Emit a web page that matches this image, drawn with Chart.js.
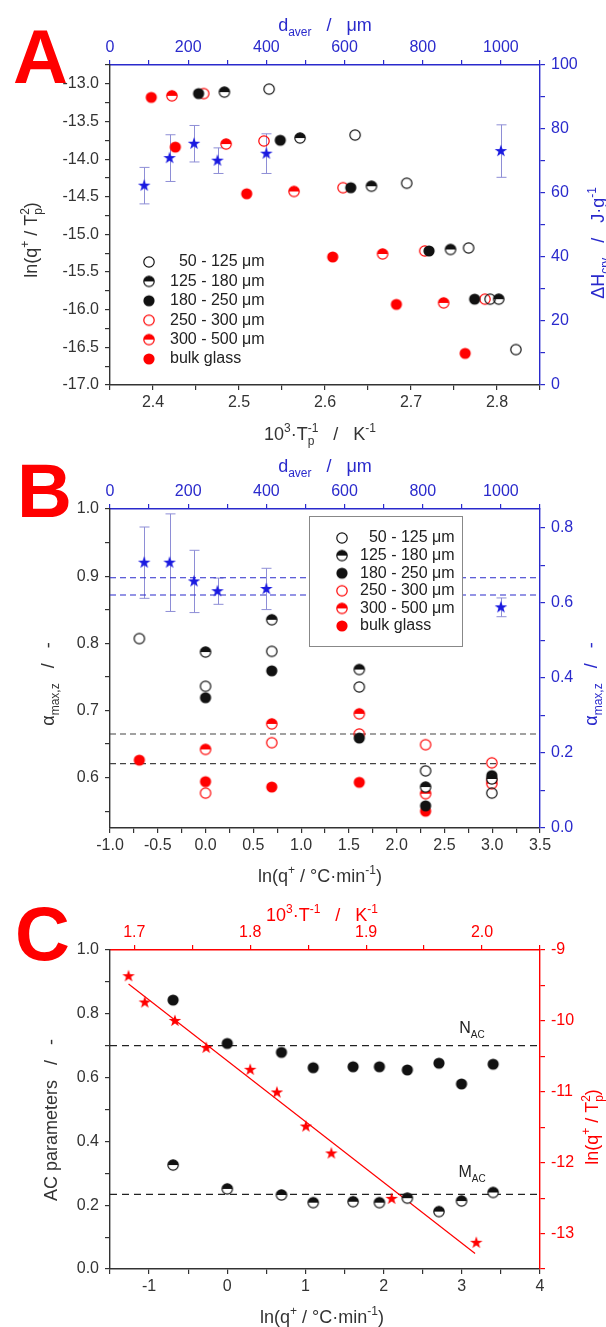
<!DOCTYPE html>
<html>
<head>
<meta charset="utf-8">
<script src="https://cdn.jsdelivr.net/npm/chart.js@4.4.1/dist/chart.umd.min.js"></script>
<style>
  html, body { margin: 0; padding: 0; background: #fff; }
  #wrap { position: relative; width: 606px; height: 1327px; overflow: hidden; }
  canvas { position: absolute; left: 0; }
</style>
</head>
<body>
<div id="wrap">
  <canvas id="cA" width="606" height="450" style="top:0px"></canvas>
  <canvas id="cB" width="606" height="445" style="top:450px"></canvas>
  <canvas id="cC" width="606" height="442" style="top:885px"></canvas>
</div>
<script>
// -------------------- DATA --------------------
const sizeLabels = ['  50 - 125 \u03bcm', '125 - 180 \u03bcm', '180 - 250 \u03bcm',
                    '250 - 300 \u03bcm', '300 - 500 \u03bcm', 'bulk glass'];
const dAver = [87.5, 152.5, 215, 275, 400, 1000];

// panel A : ln(q/Tp^2) vs 1000/Tp
const aX50  = [2.535, 2.635, 2.695, 2.767, 2.792, 2.822];
const aY50  = [-13.07, -13.68, -14.32, -15.18, -15.86, -16.53];
const aX125 = [2.483, 2.571, 2.654, 2.746, 2.802];
const aY125 = [-13.11, -13.72, -14.36, -15.20, -15.86];
const aX180 = [2.453, 2.548, 2.630, 2.721, 2.774];
const aY180 = [-13.13, -13.75, -14.38, -15.22, -15.86];
const aX250 = [2.459, 2.529, 2.621, 2.716, 2.786];
const aY250 = [-13.13, -13.76, -14.38, -15.22, -15.86];
const aX300 = [2.422, 2.485, 2.564, 2.667, 2.738];
const aY300 = [-13.16, -13.80, -14.43, -15.26, -15.91];
const aXbulk = [2.398, 2.426, 2.509, 2.609, 2.683, 2.763];
const aYbulk = [-13.18, -13.84, -14.46, -15.30, -15.93, -16.58];
const aDH    = [62.3, 70.9, 75.4, 70.1, 72.3, 73.1];
const aDHerr = [5.7, 7.3, 5.7, 4.0, 6.2, 8.2];

// panel B : alpha max vs ln q
const bLnq  = [-0.693, 0, 0.693, 1.609, 2.303, 2.996];
const bLnq5 = [0, 0.693, 1.609, 2.303, 2.996];
const bA50  = [0.807, 0.736, 0.788, 0.735, 0.610, 0.577];
const bA125 = [0.787, 0.835, 0.761, 0.586, 0.598];
const bA180 = [0.719, 0.759, 0.659, 0.558, 0.603];
const bA250 = [0.577, 0.652, 0.665, 0.649, 0.622];
const bA300 = [0.642, 0.680, 0.695, 0.576, 0.591];
const bAbulk = [0.626, 0.594, 0.586, 0.593, 0.550, 0.596];
const bAlphaD    = [0.707, 0.707, 0.657, 0.631, 0.637, 0.588];
const bAlphaDerr = [0.095, 0.130, 0.083, 0.035, 0.055, 0.025];
const bBlackBand = [0.665, 0.621];
const bBlueBand  = [0.667, 0.621];

// panel C : AC parameters
const cLnq = [-0.693, 0, 0.693, 1.099, 1.609, 1.946, 2.303, 2.708, 2.996, 3.401];
const cN   = [0.843, 0.707, 0.679, 0.631, 0.634, 0.634, 0.624, 0.645, 0.580, 0.642];
const cM   = [0.326, 0.251, 0.232, 0.208, 0.211, 0.208, 0.222, 0.180, 0.213, 0.240];
const cInvT  = [1.695, 1.709, 1.735, 1.762, 1.800, 1.823, 1.848, 1.870, 1.922, 1.995];
const cLnqT  = [-9.37, -9.74, -10.00, -10.38, -10.69, -11.01, -11.49, -11.87, -12.51, -13.13];
const cFitX  = [1.695, 1.994];
const cFitY  = [-9.48, -13.28];
const cNmean = 0.70;
const cMmean = 0.234;

// tick labels
const aBotTicks = [2.4, 2.5, 2.6, 2.7, 2.8];
const dTopTicks = [0, 200, 400, 600, 800, 1000];
const aLeftTicks = [-17.0, -16.5, -16.0, -15.5, -15.0, -14.5, -14.0, -13.5, -13.0];
const aRightTicks = [0, 20, 40, 60, 80, 100];
const bBotTicks = [-1.0, -0.5, 0.0, 0.5, 1.0, 1.5, 2.0, 2.5, 3.0, 3.5];
const bLeftTicks = [0.6, 0.7, 0.8, 0.9, 1.0];
const bRightTicks = [0.0, 0.2, 0.4, 0.6, 0.8];
const cBotTicks = [-1, 0, 1, 2, 3, 4];
const cTopTicks = [1.7, 1.8, 1.9, 2.0];
const cLeftTicks = [0.0, 0.2, 0.4, 0.6, 0.8, 1.0];
const cRightTicks = [-13, -12, -11, -10, -9];

// -------------------- STYLE --------------------
const INK = '#333333', BLUE = '#2a2acc', RED = '#ff0000', ERR = '#8e8ed6';
const FAM = '"Liberation Sans", Arial, sans-serif';
Chart.defaults.font.family = FAM;

function marker(kind, color) {
  const c = document.createElement('canvas');
  c.width = 16; c.height = 16;
  const g = c.getContext('2d');
  g.translate(8, 8);
  const r = 5.2;
  if (kind === 'star') {
    g.beginPath();
    for (let i = 0; i < 10; i++) {
      const rr = i % 2 ? 2.6 : 6.6;
      const a = -Math.PI / 2 + i * Math.PI / 5;
      g.lineTo(rr * Math.cos(a), rr * Math.sin(a));
    }
    g.closePath();
    g.fillStyle = color; g.fill();
    return c;
  }
  g.lineWidth = 1.2;
  g.strokeStyle = color;
  g.fillStyle = color;
  if (kind === 'fill') {
    g.beginPath(); g.arc(0, 0, r + 0.4, 0, Math.PI * 2); g.fill();
  } else if (kind === 'open') {
    g.beginPath(); g.arc(0, 0, r, 0, Math.PI * 2); g.stroke();
  } else {
    g.beginPath(); g.arc(0, 0, r, 0, Math.PI * 2);
    g.fillStyle = '#fff'; g.fill();
    g.beginPath(); g.arc(0, 0, r, Math.PI, Math.PI * 2); g.closePath();
    g.fillStyle = color; g.fill();
    g.beginPath(); g.arc(0, 0, r, 0, Math.PI * 2); g.stroke();
  }
  return c;
}
const mOpenK = marker('open', '#111'), mHalfK = marker('half', '#111'), mFillK = marker('fill', '#111');
const mOpenR = marker('open', RED), mHalfR = marker('half', RED), mFillR = marker('fill', RED);
const mStarB = marker('star', '#1a1ae0'), mStarR = marker('star', RED);
const sizeMarkers = [mOpenK, mHalfK, mFillK, mOpenR, mHalfR, mFillR];

const pts = (xs, ys) => xs.map((x, i) => ({ x, y: ys[i] }));

function axis(pos, min, max, step, majors, dec, color, size) {
  const horiz = pos === 'top' || pos === 'bottom';
  return {
    type: 'linear', position: pos, min, max, bounds: 'data',
    afterBuildTicks: s => {
      const out = [];
      for (let k = Math.ceil(min / step - 1e-9); k * step <= max + 1e-9; k++) {
        out.push({ value: +(k * step).toFixed(6) });
      }
      s.ticks = out;
    },
    afterFit: s => { if (horiz) s.height = size; else s.width = size; },
    grid: { drawOnChartArea: false, drawTicks: true, tickLength: 5, color, lineWidth: 1.2 },
    border: { display: true, color, width: 1.4 },
    ticks: {
      color, autoSkip: false, maxRotation: 0, minRotation: 0,
      padding: horiz ? 3 : 6, font: { size: 16 },
      callback: v => majors.some(m => Math.abs(m - v) < 1e-6) ? v.toFixed(dec) : ''
    }
  };
}

// text with _{sub} and ^{sup}; a sup right after a sub is stacked over it
function drawRich(ctx, s, cx, by, size, color, rot) {
  const parts = [];
  const re = /([_^])\{([^}]*)\}|([^_^]+)/g;
  let m;
  while ((m = re.exec(s))) {
    if (m[3]) parts.push({ t: m[3], k: '' });
    else parts.push({ t: m[2], k: m[1] === '_' ? 'sub' : 'sup' });
  }
  const big = size + 'px ' + FAM, small = Math.round(size * 0.64) + 'px ' + FAM;
  let w = 0, prevStart = 0, prevK = '';
  parts.forEach(p => {
    ctx.font = p.k ? small : big;
    p.w = ctx.measureText(p.t).width;
    if (p.k === 'sup' && prevK === 'sub') { p.x = prevStart; w = Math.max(w, p.x + p.w); }
    else { p.x = w; w += p.w; }
    prevStart = p.x; prevK = p.k;
  });
  ctx.save();
  ctx.translate(cx, by);
  ctx.rotate(rot || 0);
  ctx.fillStyle = color;
  ctx.textBaseline = 'alphabetic';
  ctx.textAlign = 'left';
  parts.forEach(p => {
    ctx.font = p.k ? small : big;
    const dy = p.k === 'sub' ? size * 0.3 : p.k === 'sup' ? -size * 0.42 : 0;
    ctx.fillText(p.t, p.x - w / 2, dy);
  });
  ctx.restore();
}

function letter(ctx, ch, x, y) {
  ctx.save();
  ctx.font = 'bold 76px ' + FAM;
  ctx.fillStyle = RED;
  ctx.textBaseline = 'alphabetic';
  ctx.fillText(ch, x, y);
  ctx.restore();
}

function legendRows(ctx, sx, tx, y0, dy) {
  ctx.save();
  ctx.font = '16px ' + FAM;
  ctx.fillStyle = '#222';
  ctx.textBaseline = 'middle';
  sizeLabels.forEach((lab, i) => {
    const y = y0 + i * dy;
    ctx.drawImage(sizeMarkers[i], sx - 8, y - 8);
    ctx.fillText(lab, tx, y);
  });
  ctx.restore();
}

function errorBars(chart, xs, vs, es) {
  const sx = chart.scales.x2, sy = chart.scales.y2, ctx = chart.ctx;
  ctx.save();
  ctx.strokeStyle = ERR;
  ctx.lineWidth = 1;
  xs.forEach((d, i) => {
    const px = Math.round(sx.getPixelForValue(d)) + 0.5;
    const y1 = sy.getPixelForValue(vs[i] - es[i]), y2 = sy.getPixelForValue(vs[i] + es[i]);
    ctx.beginPath();
    ctx.moveTo(px, y1); ctx.lineTo(px, y2);
    ctx.moveTo(px - 5, y1); ctx.lineTo(px + 5, y1);
    ctx.moveTo(px - 5, y2); ctx.lineTo(px + 5, y2);
    ctx.stroke();
  });
  ctx.restore();
}

function sizeSets(groups) {
  return groups.map((g, i) => ({
    label: sizeLabels[i], data: g, xAxisID: 'x', yAxisID: 'y',
    pointStyle: sizeMarkers[i], pointRadius: 5, showLine: false
  }));
}

const base = {
  responsive: false, animation: false, devicePixelRatio: 1, events: [],
  layout: { padding: 0 },
  plugins: { legend: { display: false }, tooltip: { enabled: false } }
};

// -------------------- PANEL A --------------------
new Chart(document.getElementById('cA'), {
  type: 'scatter',
  data: {
    datasets: [
      { label: 'dH', data: pts(dAver, aDH), xAxisID: 'x2', yAxisID: 'y2', pointStyle: mStarB, pointRadius: 6 },
      ...sizeSets([pts(aX50, aY50), pts(aX125, aY125), pts(aX180, aY180),
                   pts(aX250, aY250), pts(aX300, aY300), pts(aXbulk, aYbulk)])
    ]
  },
  options: {
    ...base,
    scales: {
      x: axis('bottom', 2.35, 2.85, 0.05, aBotTicks, 1, INK, 65),
      x2: axis('top', 0, 1100, 100, dTopTicks, 0, BLUE, 65),
      y: axis('left', -17, -12.75, 0.25, aLeftTicks, 1, INK, 110),
      y2: axis('right', 0, 100, 10, aRightTicks, 0, BLUE, 66)
    }
  },
  plugins: [{
    id: 'decoA',
    beforeDatasetsDraw: c => errorBars(c, dAver, aDH, aDHerr),
    afterDraw: c => {
      const ctx = c.ctx;
      letter(ctx, 'A', 13, 83);
      drawRich(ctx, 'd_{aver}   /   \u03bcm', 325, 31, 18, BLUE, 0);
      drawRich(ctx, '10^{3}\u00b7T_{p}^{-1}   /   K^{-1}', 320, 440, 18, INK, 0);
      drawRich(ctx, 'ln(q^{+} / T_{p}^{2})', 37, 240, 18, INK, -Math.PI / 2);
      drawRich(ctx, '\u0394H_{cry}   /   J\u00b7g^{-1}', 604, 243, 18, BLUE, -Math.PI / 2);
      legendRows(ctx, 149, 170, 262, 19.4);
    }
  }]
});

// -------------------- PANEL B --------------------
new Chart(document.getElementById('cB'), {
  type: 'scatter',
  data: {
    datasets: [
      { label: 'alpha d', data: pts(dAver, bAlphaD), xAxisID: 'x2', yAxisID: 'y2', pointStyle: mStarB, pointRadius: 6 },
      ...sizeSets([pts(bLnq, bA50), pts(bLnq5, bA125), pts(bLnq5, bA180),
                   pts(bLnq5, bA250), pts(bLnq5, bA300), pts(bLnq, bAbulk)]),
      ...bBlackBand.map(v => ({
        label: 'band', data: [{ x: -1, y: v }, { x: 3.5, y: v }], xAxisID: 'x', yAxisID: 'y',
        showLine: true, pointRadius: 0, borderColor: '#444', borderWidth: 1.2, borderDash: [6, 4]
      })),
      ...bBlueBand.map(v => ({
        label: 'band', data: [{ x: -1, y: v }, { x: 3.5, y: v }], xAxisID: 'x', yAxisID: 'y2',
        showLine: true, pointRadius: 0, borderColor: BLUE, borderWidth: 1.1, borderDash: [6, 4]
      }))
    ]
  },
  options: {
    ...base,
    scales: {
      x: axis('bottom', -1, 3.5, 0.25, bBotTicks, 1, INK, 445 - 378),
      x2: axis('top', 0, 1100, 100, dTopTicks, 0, BLUE, 59),
      y: axis('left', 0.525, 1.0, 0.05, bLeftTicks, 1, INK, 110),
      y2: axis('right', 0, 0.85, 0.1, bRightTicks, 1, BLUE, 66)
    }
  },
  plugins: [{
    id: 'decoB',
    beforeDatasetsDraw: c => errorBars(c, dAver, bAlphaD, bAlphaDerr),
    afterDraw: c => {
      const ctx = c.ctx;
      letter(ctx, 'B', 17, 67);
      drawRich(ctx, 'd_{aver}   /   \u03bcm', 325, 22, 18, BLUE, 0);
      drawRich(ctx, 'ln(q^{+} / \u00b0C\u00b7min^{-1})', 320, 432, 18, INK, 0);
      drawRich(ctx, '\u03b1_{max,z}   /   -', 54, 234, 18, INK, -Math.PI / 2);
      drawRich(ctx, '\u03b1_{max,z}   /   -', 597, 234, 18, BLUE, -Math.PI / 2);
      ctx.save();
      ctx.fillStyle = '#fff';
      ctx.fillRect(309.5, 66.5, 153, 130);
      ctx.strokeStyle = '#888';
      ctx.lineWidth = 1;
      ctx.strokeRect(309.5, 66.5, 153, 130);
      ctx.restore();
      legendRows(ctx, 342, 360, 88, 17.6);
    }
  }]
});

// -------------------- PANEL C --------------------
new Chart(document.getElementById('cC'), {
  type: 'scatter',
  data: {
    datasets: [
      { label: 'N_AC', data: pts(cLnq, cN), xAxisID: 'x', yAxisID: 'y', pointStyle: mFillK, pointRadius: 5 },
      { label: 'M_AC', data: pts(cLnq, cM), xAxisID: 'x', yAxisID: 'y', pointStyle: mHalfK, pointRadius: 5 },
      { label: 'lnq/T2', data: pts(cInvT, cLnqT), xAxisID: 'x2', yAxisID: 'y2', pointStyle: mStarR, pointRadius: 6 },
      { label: 'fit', data: pts(cFitX, cFitY), xAxisID: 'x2', yAxisID: 'y2', showLine: true,
        pointRadius: 0, borderColor: RED, borderWidth: 1.2 },
      { label: 'N mean', data: [{ x: -1.5, y: cNmean }, { x: 4, y: cNmean }], xAxisID: 'x', yAxisID: 'y',
        showLine: true, pointRadius: 0, borderColor: '#222', borderWidth: 1.3, borderDash: [7, 5] },
      { label: 'M mean', data: [{ x: -1.5, y: cMmean }, { x: 4, y: cMmean }], xAxisID: 'x', yAxisID: 'y',
        showLine: true, pointRadius: 0, borderColor: '#222', borderWidth: 1.3, borderDash: [7, 5] }
    ]
  },
  options: {
    ...base,
    scales: {
      x: axis('bottom', -1.5, 4, 0.5, cBotTicks, 0, INK, 442 - 384),
      x2: axis('top', 1.679, 2.05, 0.05, cTopTicks, 1, RED, 65),
      y: axis('left', 0, 1, 0.1, cLeftTicks, 1, INK, 110),
      y2: axis('right', -13.5, -9, 0.5, cRightTicks, 0, RED, 66)
    }
  },
  plugins: [{
    id: 'decoC',
    afterDraw: c => {
      const ctx = c.ctx, sy = c.scales.y;
      letter(ctx, 'C', 15, 75);
      drawRich(ctx, '10^{3}\u00b7T^{-1}   /   K^{-1}', 322, 36, 18, RED, 0);
      drawRich(ctx, 'ln(q^{+} / \u00b0C\u00b7min^{-1})', 322, 438, 18, INK, 0);
      drawRich(ctx, 'AC parameters   /   -', 57, 235, 18, INK, -Math.PI / 2);
      drawRich(ctx, 'ln(q^{+} / T_{p}^{2})', 598, 242, 18, RED, -Math.PI / 2);
      drawRich(ctx, 'N_{AC}', 472, sy.getPixelForValue(cNmean) - 13, 16, '#222', 0);
      drawRich(ctx, 'M_{AC}', 472, sy.getPixelForValue(cMmean) - 17, 16, '#222', 0);
    }
  }]
});
</script>
</body>
</html>
